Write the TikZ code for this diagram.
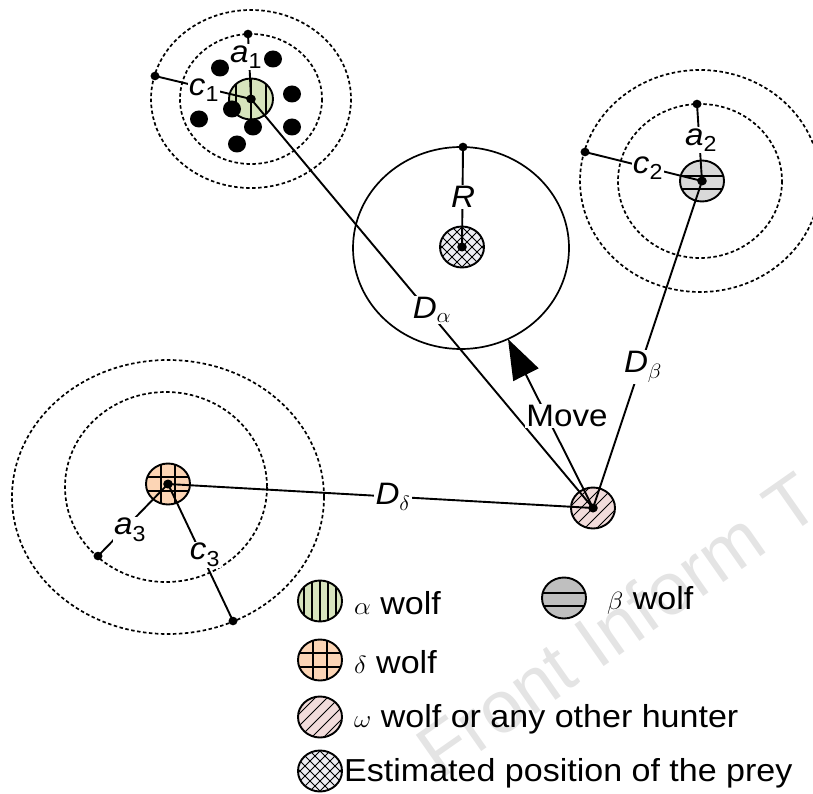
\documentclass[tikz,border=0pt]{standalone}
\usepackage{fontspec}
\setmainfont{Liberation Sans}
\usetikzlibrary{arrows.meta}
\definecolor{alphafill}{HTML}{D7E4BD}
\definecolor{betafill}{HTML}{D9D9D9}
\definecolor{betafillL}{HTML}{BFBFBF}
\definecolor{deltafill}{HTML}{FCD5B5}
\definecolor{omegafill}{HTML}{F2DCDB}
\definecolor{preyfill}{HTML}{EDEDF3}
\definecolor{wmgray}{HTML}{E4E4E4}
\newcommand\lblfont{\fontsize{31}{37}\selectfont}
\newcommand\legfont{\fontsize{31.8}{38}\selectfont}
\newcommand\wolfshape[3]{%
  \fill[#2] (#1) ellipse (22 and 20.5);
  \begin{scope}
    \clip (#1) ellipse (22 and 20.5);
    \begin{scope}[shift={(#1)}] #3 \end{scope}
  \end{scope}
  \draw[outl] (#1) ellipse (22 and 20.5);}
\newcommand\hatchA{\foreach \x in {-15,0,15} \draw[hl] (\x,-30)--(\x,30);}
\newcommand\hatchAL{\foreach \x in {-16,-8,0,8,16} \draw[hl] (\x,-30)--(\x,30);}
\newcommand\hatchB{\draw[hl] (-30,-5)--(30,-5); \draw[hl] (-30,8)--(30,8);}
\newcommand\hatchD{\foreach \v in {-7,7}{\draw[hl] (\v,-30)--(\v,30); \draw[hl] (-30,\v)--(30,\v);}}
\newcommand\hatchO{\foreach \d in {-48,-36,...,48} \draw[tl] (\d-30,30)--(\d+30,-30);}
\newcommand\hatchP{\foreach \d in {-50,-40,...,50} {\draw[tl] (\d-30,30)--(\d+30,-30); \draw[tl] (\d-30,-30)--(\d+30,30);}}
\begin{document}
\begin{tikzpicture}[x=1pt,y=-1pt,
  dring/.style={line width=1.7pt, dash pattern=on 3.5pt off 2.5pt},
  conn/.style={line width=1.9pt},
  outl/.style={line width=1.9pt},
  hl/.style={line width=1.5pt},
  tl/.style={line width=0.9pt},
  lbl/.style={fill=white, inner sep=1pt, font=\lblfont, xscale=1.07, transform shape},
  leg/.style={anchor=west, inner sep=0pt, font=\legfont, xscale=1.07, transform shape},
  enddot/.style={fill=black}]
\useasboundingbox (0,0) rectangle (813,794);
% watermark
\node[rotate=35, anchor=base west, inner sep=0pt, text=wmgray, font=\fontsize{74}{74}\selectfont] (wm) at (440,781) {Front Inform T};
% centers
\coordinate (alpha) at (251,99);
\coordinate (beta) at (702,181);
\coordinate (prey) at (462,247);
\coordinate (delta) at (168,484);
\coordinate (omega) at (593,508);
% ring ends
\coordinate (a1e) at (248,34);
\coordinate (c1e) at (155,76);
\coordinate (a2e) at (697,104);
\coordinate (c2e) at (585,152);
\coordinate (Re) at (463,147);
\coordinate (a3e) at (98,556);
\coordinate (c3e) at (233,621);
\coordinate (tip) at (508,339);
% rings
\draw[dring] (alpha) ellipse (71 and 65);
\draw[dring] (alpha) ellipse (100 and 89);
\draw[dring] (700,181) ellipse (82 and 77);
\draw[dring] (700,181) ellipse (120 and 111);
\draw[dring] (166,487) ellipse (101 and 95);
\draw[dring] (168,497) ellipse (156 and 137);
\draw[line width=1.7pt] (461,248) ellipse (108 and 101);
% wolves
\wolfshape{alpha}{alphafill}{\hatchA}
\wolfshape{beta}{betafill}{\hatchB}
\wolfshape{delta}{deltafill}{\hatchD}
\wolfshape{omega}{omegafill}{\hatchO}
\wolfshape{prey}{preyfill}{\hatchP}
% connectors
\draw[conn] (a1e) -- (alpha);
\draw[conn] (c1e) -- (alpha);
\draw[conn] (a2e) -- (beta);
\draw[conn] (c2e) -- (beta);
\draw[conn] (Re) -- (prey);
\draw[conn] (a3e) -- (delta);
\draw[conn] (c3e) -- (delta);
\draw[conn] (alpha) -- (omega);
\draw[conn] (beta) -- (omega);
\draw[conn] (delta) -- (omega);
\draw[conn, -{Triangle[length=40pt,width=28pt]}] (omega) -- (tip);
% pack dots around alpha
\foreach \p in {(273,59),(220,68),(292,94),(232,109),(199,119),(253,127),(292,127),(237,144)}
  \fill \p ellipse (9 and 8.5);
% dots
\foreach \c in {a1e,c1e,a2e,c2e,Re,a3e,c3e}
  \fill[enddot] (\c) ellipse (4.5 and 4.3);
\foreach \c in {alpha,beta,prey,delta,omega}
  \fill[enddot] (\c) ellipse (4.8 and 4.5);
% labels
\node[lbl] (la1) at (246,57) {\itshape a\textsubscript{\upshape 1}};
\node[lbl] (lc1) at (204,90) {\itshape c\textsubscript{\upshape 1}};
\node[lbl] (la2) at (701,140) {\itshape a\textsubscript{\upshape 2}};
\node[lbl] (lc2) at (648,168) {\itshape c\textsubscript{\upshape 2}};
\node[lbl] (lR) at (463,197) {\itshape R};
\node[lbl] (la3) at (130,530) {\itshape a\textsubscript{\upshape 3}};
\node[lbl] (lc3) at (205,555) {\itshape c\textsubscript{\upshape 3}};
\node[lbl] (lDa) at (432,310) {\itshape D$_\alpha$};
\node[lbl] (lDb) at (643,367) {\itshape D$_\beta$};
\node[lbl] (lDd) at (393,497) {\itshape D$_\delta$};
\node[lbl] (lMove) at (567,416) {Move};
% legend
\coordinate (L1) at (320,601);
\coordinate (L2) at (564,598);
\coordinate (L3) at (320,660);
\coordinate (L4) at (320,717);
\coordinate (L5) at (320,771);
\wolfshape{L1}{alphafill}{\hatchAL}
\wolfshape{L2}{betafillL}{\hatchB}
\wolfshape{L3}{deltafill}{\hatchD}
\wolfshape{L4}{omegafill}{\hatchO}
\wolfshape{L5}{preyfill}{\hatchP}
\node[leg] (t1) at (354,603) {$\alpha$ wolf};
\node[leg] (t2) at (607,600) {$\beta$ wolf};
\node[leg] (t3) at (354,662) {$\delta$ wolf};
\node[leg] (t4) at (354,719) {$\omega$ wolf or any other hunter};
\node[leg] (t5) at (344,773) {Estimated position of the prey};
\end{tikzpicture}
\end{document}
